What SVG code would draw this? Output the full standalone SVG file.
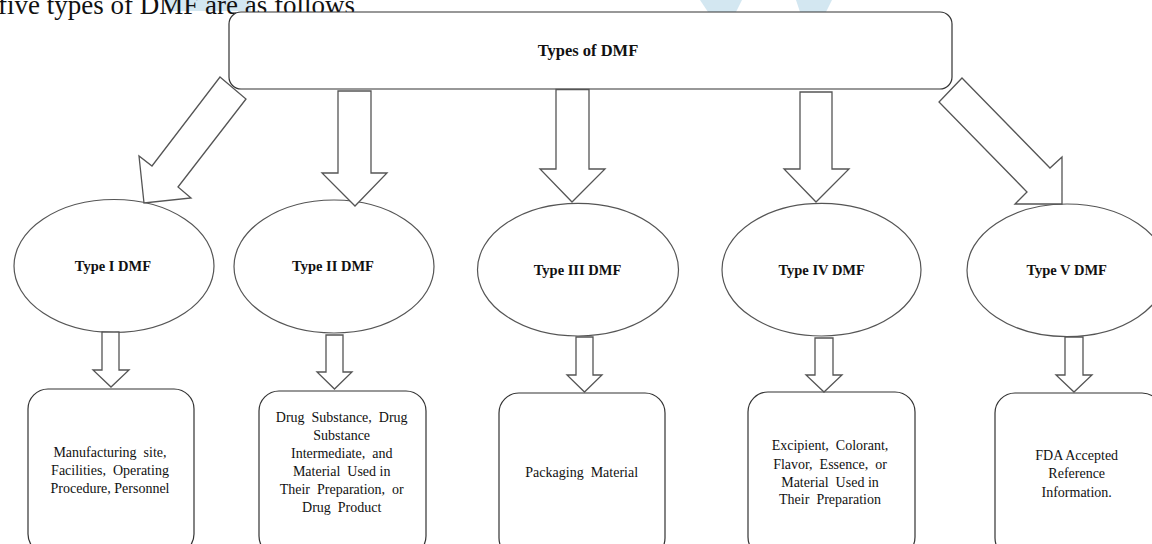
<svg xmlns="http://www.w3.org/2000/svg" width="1152" height="544" viewBox="0 0 1152 544">
<style>
.serif{font-family:"Liberation Serif","Times New Roman",serif;fill:#111}
.lbl{font-size:14.5px;font-weight:bold;text-anchor:middle}
.body{font-size:14px;text-anchor:middle;white-space:pre}
.ell{fill:#fff;stroke:#555;stroke-width:1.2}
.box{fill:#fff;stroke:#333;stroke-width:1.2}
.arr{fill:#fff;stroke:#555;stroke-width:1.3;stroke-linejoin:miter}
.wm{fill:#d3e7f1}
</style>
<rect width="1152" height="544" fill="#fff"/>
<g id="watermark">
<rect class="wm" x="168" y="0" width="83" height="11"/>
<path class="wm" d="M700 0 L742 0 L736 12 L708 12 Z"/>
<path class="wm" d="M796 0 L832 0 L826 12 L800 12 Z"/>
</g>
<text class="serif" x="-2" y="13.5" font-size="27">five types of DMF are as follows</text>
<g id="root">
<rect class="box" x="229" y="12" width="723" height="77" rx="12" stroke="#222"/>
<text class="serif lbl" x="588" y="56" style="font-size:16.5px">Types of DMF</text>
</g>
<g id="type1"><ellipse class="ell" cx="114" cy="266" rx="100" ry="66.5"/><text class="serif lbl" x="113" y="271">Type I DMF</text></g>
<g id="type2"><ellipse class="ell" cx="334" cy="266.5" rx="100" ry="66.5"/><text class="serif lbl" x="333" y="271">Type II DMF</text></g>
<g id="type3"><ellipse class="ell" cx="578" cy="269.7" rx="100.5" ry="66.3"/><text class="serif lbl" x="577.5" y="275">Type III DMF</text></g>
<g id="type4"><ellipse class="ell" cx="821.5" cy="269.7" rx="99.5" ry="66.3"/><text class="serif lbl" x="821.7" y="275">Type IV DMF</text></g>
<g id="type5"><ellipse class="ell" cx="1067" cy="270.3" rx="100" ry="66.3"/><text class="serif lbl" x="1066.7" y="275">Type V DMF</text></g>
<g id="desc1"><rect class="box" x="28" y="389" width="166" height="165" rx="20"/>
<text class="serif body" xml:space="preserve"><tspan x="110" y="456.5">Manufacturing  site,</tspan><tspan x="110" y="474.5">Facilities,  Operating</tspan><tspan x="110" y="492.5">Procedure, Personnel</tspan></text></g>
<g id="desc2"><rect class="box" x="259" y="391" width="167" height="165" rx="20"/>
<text class="serif body" xml:space="preserve"><tspan x="341.7" y="421.5">Drug  Substance,  Drug</tspan><tspan x="341.7" y="440">Substance</tspan><tspan x="341.7" y="458">Intermediate,  and</tspan><tspan x="341.7" y="476">Material  Used in</tspan><tspan x="341.7" y="494">Their  Preparation,  or</tspan><tspan x="341.7" y="511.5">Drug  Product</tspan></text></g>
<g id="desc3"><rect class="box" x="499" y="393" width="166" height="165" rx="20"/>
<text class="serif body" xml:space="preserve" x="581.7" y="477">Packaging  Material</text></g>
<g id="desc4"><rect class="box" x="748" y="392" width="167" height="165" rx="20"/>
<text class="serif body" xml:space="preserve"><tspan x="830" y="450">Excipient,  Colorant,</tspan><tspan x="830" y="469">Flavor,  Essence,  or</tspan><tspan x="830" y="486.5">Material  Used in</tspan><tspan x="830" y="504">Their  Preparation</tspan></text></g>
<g id="desc5"><rect class="box" x="995" y="393" width="167" height="165" rx="20"/>
<text class="serif body" xml:space="preserve"><tspan x="1076.7" y="460">FDA Accepted</tspan><tspan x="1076.7" y="478.3">Reference</tspan><tspan x="1076.7" y="496.5">Information.</tspan></text></g>
<g id="connectors">
<path class="arr" stroke="#333" d="M220 77 L246 99 L178 187 L191 198 L144 203 L139 156 L152 166 Z"/>
<path class="arr" d="M338 91 L371 91 L371 173 L387 173 L355 206 L322 173 L338 173 Z"/>
<path class="arr" d="M556 89.5 L589 89.5 L589 169 L605 169 L572 202 L540 169 L556 169 Z"/>
<path class="arr" d="M800 92 L832 92 L832 169 L849 169 L816 202 L784 169 L800 169 Z"/>
<path class="arr" stroke="#333" d="M962 78 L1050 168 L1062 157 L1062 204 L1015 204 L1027 192 L939 102 Z"/>
<path class="arr" d="M102 332 L119 332 L119 370 L129 370 L111 387 L93 370 L102 370 Z"/>
<path class="arr" d="M326 335 L343 335 L343 372 L352 372 L334.5 389 L317 372 L326 372 Z"/>
<path class="arr" d="M576 337 L593 337 L593 375 L602 375 L584.5 392 L567 375 L576 375 Z"/>
<path class="arr" d="M815 338 L833 338 L833 375 L842 375 L824 392 L806 375 L815 375 Z"/>
<path class="arr" d="M1065 337 L1083 337 L1083 375 L1092 375 L1074 392 L1056 375 L1065 375 Z"/>
</g>
</svg>
